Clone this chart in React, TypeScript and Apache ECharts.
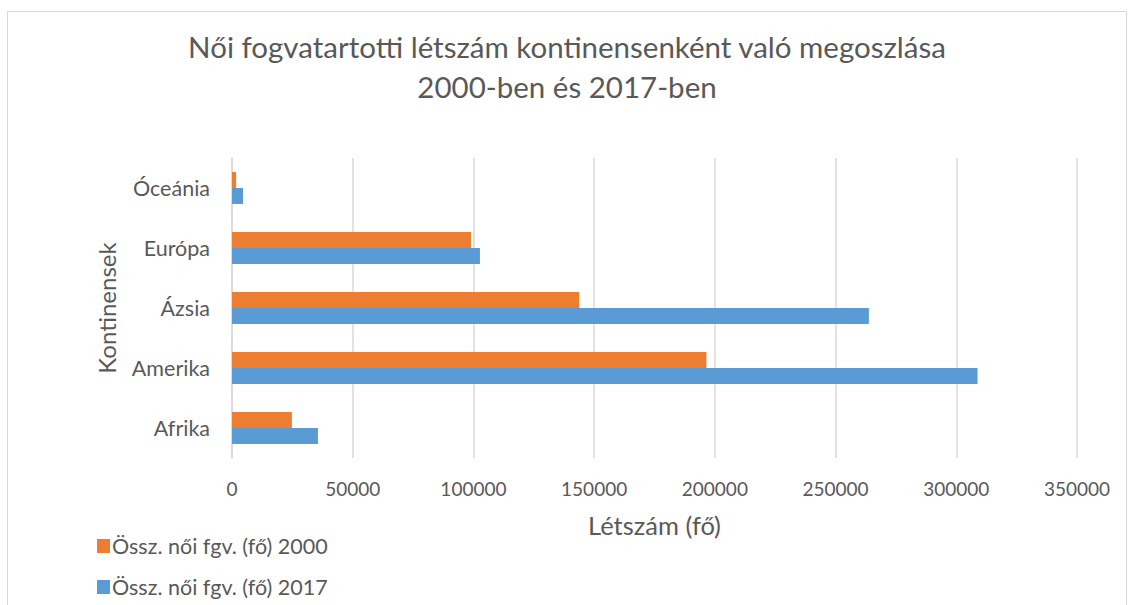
import React, { useEffect, useRef } from "react";
import * as echarts from "echarts";

const categories = ["Afrika", "Amerika", "Ázsia", "Európa", "Óceánia"];
const values2000 = [24800, 196500, 143800, 99000, 1700];
const values2017 = [35600, 308800, 263800, 102700, 4600];
const seriesNames = ["Össz. női fgv. (fő) 2000", "Össz. női fgv. (fő) 2017"];
const titleText = "Női fogvatartotti létszám kontinensenként való megoszlása\n2000-ben és 2017-ben";
const xAxisName = "Létszám (fő)";
const yAxisName = "Kontinensek";

const FONT = "Lato, 'Open Sans', sans-serif";
const TXT = "#595959";

export default function App() {
  const ref = useRef<HTMLDivElement>(null);
  useEffect(() => {
    document.body.style.margin = "0";
    if (!ref.current) return;
    const chart = echarts.init(ref.current, undefined, { renderer: "svg" });
    const legendBase = {
      orient: "horizontal",
      left: 92,
      itemWidth: 13,
      itemHeight: 14,
      icon: "rect",
      textStyle: { fontFamily: FONT, fontSize: 21.5, fontWeight: "normal", color: TXT, padding: [0, 0, 0, -3] },
    };
    chart.setOption({
      animation: false,
      backgroundColor: "#ffffff",
      textStyle: { fontFamily: FONT },
      title: {
        text: titleText,
        left: "center",
        top: 21,
        textStyle: { fontFamily: FONT, fontSize: 29.5, fontWeight: "normal", color: TXT, lineHeight: 40 },
      },
      graphic: [
        {
          type: "rect",
          shape: { x: 7.5, y: 11.5, width: 1119, height: 620 },
          style: { fill: "none", stroke: "#d9d9d9", lineWidth: 1 },
          silent: true,
        },
      ],
      legend: [
        { ...legendBase, top: 530, data: [seriesNames[0]] },
        { ...legendBase, top: 571, data: [seriesNames[1]] },
      ],
      grid: { left: 232, right: 57, top: 158, bottom: 147, containLabel: false },
      xAxis: {
        type: "value",
        min: 0,
        max: 350000,
        interval: 50000,
        name: xAxisName,
        nameLocation: "middle",
        nameGap: 54,
        nameTextStyle: { fontFamily: FONT, fontSize: 25.5, fontWeight: "normal", color: TXT },
        axisLine: { show: false },
        axisTick: { show: false },
        axisLabel: {
          fontFamily: FONT,
          fontSize: 19,
          fontWeight: "normal",
          color: TXT,
          margin: 21,
          formatter: (v: number) => String(v),
        },
        splitLine: { lineStyle: { color: "#d9d9d9", width: 1.5 } },
      },
      yAxis: {
        type: "category",
        data: categories,
        name: yAxisName,
        nameLocation: "middle",
        nameGap: 114,
        nameRotate: 90,
        nameTextStyle: { fontFamily: FONT, fontSize: 24, fontWeight: "normal", color: TXT },
        axisLine: { show: true, lineStyle: { color: "#d9d9d9", width: 1.5 } },
        axisTick: { show: false },
        axisLabel: { fontFamily: FONT, fontSize: 21.5, fontWeight: "normal", color: TXT, margin: 22 },
      },
      series: [
        {
          name: seriesNames[0],
          type: "bar",
          data: values2000,
          barWidth: 16,
          barGap: "0%",
          itemStyle: { color: "#ed7d31" },
        },
        {
          name: seriesNames[1],
          type: "bar",
          data: values2017,
          barWidth: 16,
          barGap: "0%",
          itemStyle: { color: "#5b9bd5" },
        },
      ],
    });
    return () => chart.dispose();
  }, []);
  return <div ref={ref} style={{ width: 1134, height: 605 }} />;
}
